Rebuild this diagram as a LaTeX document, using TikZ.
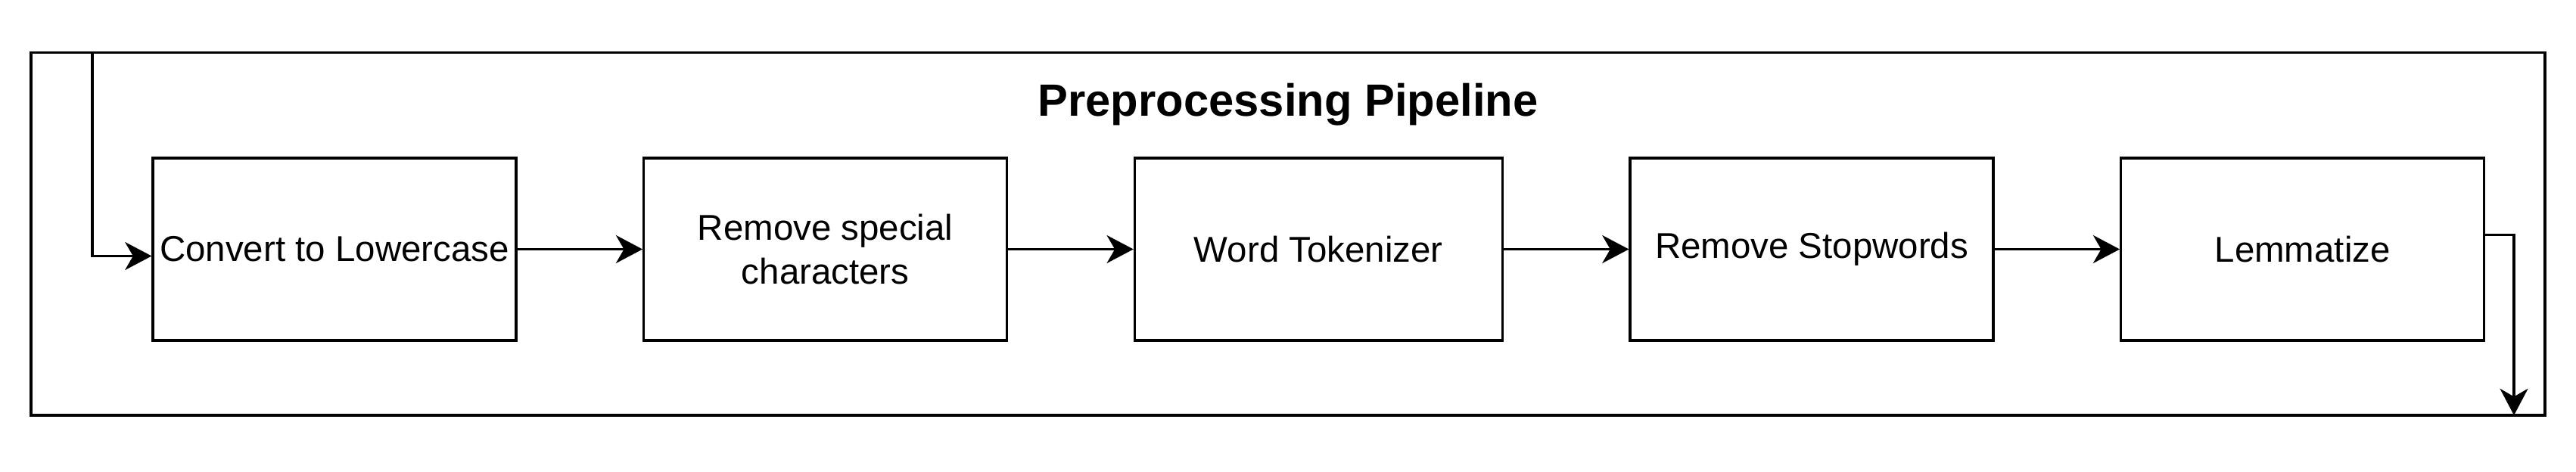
\documentclass[tikz,border=0pt]{standalone}
\usepackage{fontspec}
\setmainfont{Liberation Sans}
\usetikzlibrary{positioning,arrows.meta}

\begin{document}
\begin{tikzpicture}[
    stage/.style={draw,line width=0.9pt,minimum width=4.8cm,minimum height=2.41cm,
      align=center,inner sep=0pt,font=\fontsize{13.5}{16.7}\selectfont},
    flow/.style={line width=1pt,-{Stealth[length=10pt,width=10.5pt,inset=3pt]}},
    node distance=1.655cm
  ]
  \useasboundingbox (0,0) rectangle (34.04,-6.24);

  % Coordinates of the frame and the loose ends
  \coordinate (NW) at (0.41,-0.695);
  \coordinate (SE) at (33.63,-5.49);
  \coordinate (entry) at (1.22,-0.695);
  \coordinate (exit) at (33.22,-5.49);

  % The frame
  \draw[line width=0.9pt] (NW) rectangle (SE);
  \node[font=\fontsize{17}{20}\selectfont\bfseries] (title) at (17.02,-1.385) {Preprocessing Pipeline};

  % The stages
  \node[stage] (lower) at (4.42,-3.295) {Convert to Lowercase};
  \node[stage,right=of lower] (special) {Remove special\\characters};
  \node[stage,minimum width=4.86cm,right=of special] (token) {Word Tokenizer};
  \node[stage,right=of token] (stop) {Remove Stopwords};
  \node[stage,right=of stop] (lemma) {Lemmatize};

  % The arrows
  \draw[flow] (entry) |- ([yshift=-0.09cm]lower.west);
  \draw[flow] (lower) -- (special);
  \draw[flow] (special) -- (token);
  \draw[flow] (token) -- (stop);
  \draw[flow] (stop) -- (lemma);
  \draw[flow] ([yshift=0.19cm]lemma.east) -| (exit);
\end{tikzpicture}
\end{document}
